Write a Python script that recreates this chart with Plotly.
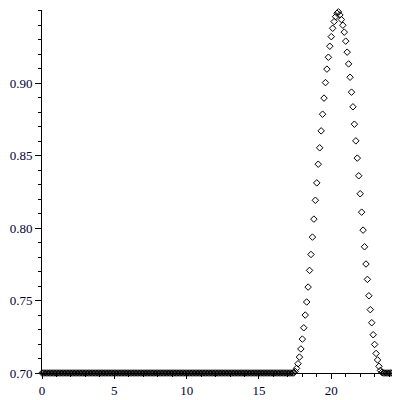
import numpy as np
import plotly.graph_objects as go

# sampling grid of the point plot
x_start, x_end, x_step = 0.0, 24.2, 0.1

# values
flat_before = [0.70] * 174          # x = 0.0 .. 17.3
bump = [
    0.7000, 0.7011, 0.7032, 0.7064, 0.7110, 0.7166, 0.7234, 0.7312, 0.7400, 0.7490,   # 17.4 .. 18.3
    0.7593, 0.7708, 0.7818, 0.7938, 0.8062, 0.8192, 0.8312, 0.8441, 0.8554, 0.8671,   # 18.4 .. 19.3
    0.8786, 0.8897, 0.9004, 0.9097, 0.9179, 0.9255, 0.9321, 0.9379, 0.9425, 0.9459,   # 19.4 .. 20.3
    0.9483, 0.9492, 0.9471, 0.9439, 0.9400, 0.9352, 0.9290, 0.9214, 0.9133, 0.9041,   # 20.4 .. 21.3
    0.8938, 0.8837, 0.8717, 0.8602, 0.8483, 0.8361, 0.8237, 0.8110, 0.7986, 0.7871,   # 21.4 .. 22.3
    0.7752, 0.7646, 0.7533, 0.7437, 0.7347, 0.7264, 0.7197, 0.7135, 0.7090, 0.7046,   # 22.4 .. 23.3
    0.7018, 0.7004,                                                                   # 23.4 .. 23.5
]
flat_after = [0.70] * 7             # x = 23.6 .. 24.2

y = flat_before + bump + flat_after
x = np.round(np.arange(x_start, x_end + x_step / 2, x_step), 1)

x_ticks = [0, 5, 10, 15, 20]
y_ticks = [0.70, 0.75, 0.80, 0.85, 0.90]

#%%
trace = go.Scatter(
    x=x,
    y=y,
    mode='markers',
    marker=dict(symbol='diamond-open', size=5, color='black', line=dict(width=1, color='black')),
    cliponaxis=False,
    showlegend=False,
)

tick_font = dict(family='Liberation Serif', size=13, color='#000033')

# page body has an 8px default margin, so margins are shifted to compensate
layout = go.Layout(
    width=400,
    height=400,
    autosize=False,
    margin=dict(l=32, r=16, t=2, b=35),
    paper_bgcolor='white',
    plot_bgcolor='white',
    xaxis=dict(
        range=[0, 24.2],
        tickvals=x_ticks,
        ticktext=[str(v) for v in x_ticks],
        ticks='outside', ticklen=5, tickcolor='black', tickwidth=1,
        minor=dict(dtick=1, tick0=0, ticks='outside', ticklen=3, tickcolor='black'),
        showline=True, linecolor='black', linewidth=1,
        showgrid=False, zeroline=False,
        tickfont=tick_font,
    ),
    yaxis=dict(
        range=[0.70, 0.9505],
        tickvals=y_ticks,
        ticktext=['%.2f' % v for v in y_ticks],
        ticks='outside', ticklen=6, tickcolor='black', tickwidth=1,
        minor=dict(dtick=0.01, tick0=0.70, ticks='outside', ticklen=3, tickcolor='black'),
        showline=True, linecolor='black', linewidth=1,
        showgrid=False, zeroline=False,
        tickfont=tick_font,
    ),
)

fig = go.Figure(data=[trace], layout=layout)
fig.write_html("out.html")
